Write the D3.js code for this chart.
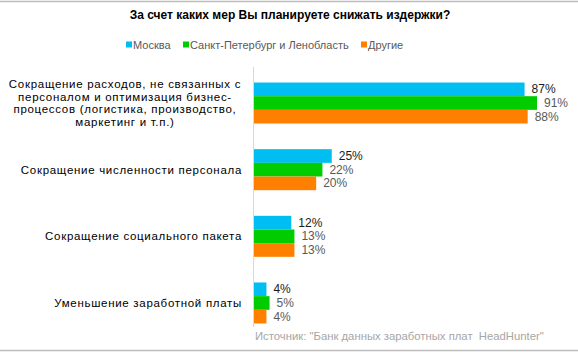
<!DOCTYPE html>
<html>
<head>
<meta charset="utf-8">
<script src="https://cdn.jsdelivr.net/npm/d3@7"></script>
<style>
  body { margin: 0; background: #fff; }
  svg { display: block; font-family: "Liberation Sans", Arial, sans-serif; }
</style>
</head>
<body>
<svg id="svg" width="578" height="353"></svg>
<script>
// categories (top to bottom), lines for wrapped labels
const categories = [
  "Сокращение расходов, не связанных с персоналом и оптимизация бизнес-процессов (логистика, производство, маркетинг и т.п.)",
  "Сокращение численности персонала",
  "Сокращение социального пакета",
  "Уменьшение заработной платы"
];
const categoryLines = [
  ["Сокращение расходов, не связанных с", "персоналом и оптимизация бизнес-", "процессов (логистика, производство,", "маркетинг и т.п.)"],
  ["Сокращение численности персонала"],
  ["Сокращение социального пакета"],
  ["Уменьшение заработной платы"]
];
const series = ["Москва", "Санкт-Петербург и Ленобласть", "Другие"];
const moscow = [87, 25, 12, 4];
const spb = [91, 22, 13, 5];
const others = [88, 20, 13, 4];

const colors = ["#00bdf2", "#00cc00", "#ff7f00"];
const labelColors = ["#1a1a1a", "#595959", "#595959"];
const values = [moscow, spb, others];

const svg = d3.select("svg");

// frame lines top/bottom
svg.append("line").attr("x1", 0).attr("x2", 578).attr("y1", 1.5).attr("y2", 1.5)
  .attr("stroke", "#bdbdbd").attr("stroke-width", 1.5);
svg.append("line").attr("x1", 0).attr("x2", 578).attr("y1", 350.5).attr("y2", 350.5)
  .attr("stroke", "#bdbdbd").attr("stroke-width", 1.5);

// title
svg.append("text")
  .attr("x", 290).attr("y", 19)
  .attr("text-anchor", "middle")
  .attr("font-size", 12).attr("font-weight", "bold").attr("fill", "#000")
  .text("За счет каких мер Вы планируете снижать издержки?");

// legend
const legendX = [126, 183, 361];
const legend = svg.selectAll(".legend").data(series).enter().append("g")
  .attr("class", "legend")
  .attr("transform", (d, i) => "translate(" + legendX[i] + ",45)");
legend.append("rect").attr("x", 0).attr("y", -3.5).attr("width", 6).attr("height", 6)
  .attr("fill", (d, i) => colors[i]);
legend.append("text").attr("x", 7).attr("y", 4)
  .attr("font-size", 11).attr("fill", "#595959")
  .text(d => d);

// scales
const x = d3.scaleLinear().domain([0, 100]).range([254, 565]);
const y0 = d3.scaleBand().domain(categories).range([69.7, 336.3])
  .paddingInner(0.385).paddingOuter(0.1925);
const y1 = d3.scaleBand().domain(series).range([0, y0.bandwidth()]);

// bars
const groups = svg.selectAll(".grp").data(categories).enter().append("g")
  .attr("class", "grp")
  .attr("transform", d => "translate(0," + y0(d) + ")");

groups.selectAll("rect").data((d, ci) => series.map((s, si) => ({ s: s, si: si, v: values[si][ci] })))
  .enter().append("rect")
  .attr("x", x(0))
  .attr("y", d => y1(d.s))
  .attr("width", d => x(d.v) - x(0))
  .attr("height", y1.bandwidth())
  .attr("fill", d => colors[d.si]);

groups.selectAll(".val").data((d, ci) => series.map((s, si) => ({ s: s, si: si, v: values[si][ci] })))
  .enter().append("text")
  .attr("class", "val")
  .attr("x", d => x(d.v) + 7)
  .attr("y", d => y1(d.s) + y1.bandwidth() / 2 + 4)
  .attr("font-size", 12)
  .attr("fill", d => labelColors[d.si])
  .text(d => d.v + "%");

// vertical axis line
svg.append("line")
  .attr("x1", 253.5).attr("x2", 253.5)
  .attr("y1", 67).attr("y2", 327)
  .attr("stroke", "#d9d9d9").attr("stroke-width", 1);

// category labels
categories.forEach(function(c, i) {
  const lines = categoryLines[i];
  const cy = y0(c) + y0.bandwidth() / 2;
  const lh = 12.9;
  const multi = lines.length > 1;
  const t = svg.append("text")
    .attr("font-size", 11.5).attr("fill", "#000")
    .attr("letter-spacing", 0.7)
    .attr("text-anchor", multi ? "middle" : "end");
  lines.forEach(function(l, j) {
    t.append("tspan")
      .attr("x", multi ? 125 : 242)
      .attr("y", cy + (j - (lines.length - 1) / 2) * lh + 4)
      .text(l);
  });
});

// source
svg.append("text")
  .attr("x", 255).attr("y", 340)
  .attr("font-size", 11.3).attr("fill", "#a6a6a6")
  .text("Источник: \"Банк данных заработных плат  HeadHunter\"")
  .style("white-space", "pre");
</script>
</body>
</html>
